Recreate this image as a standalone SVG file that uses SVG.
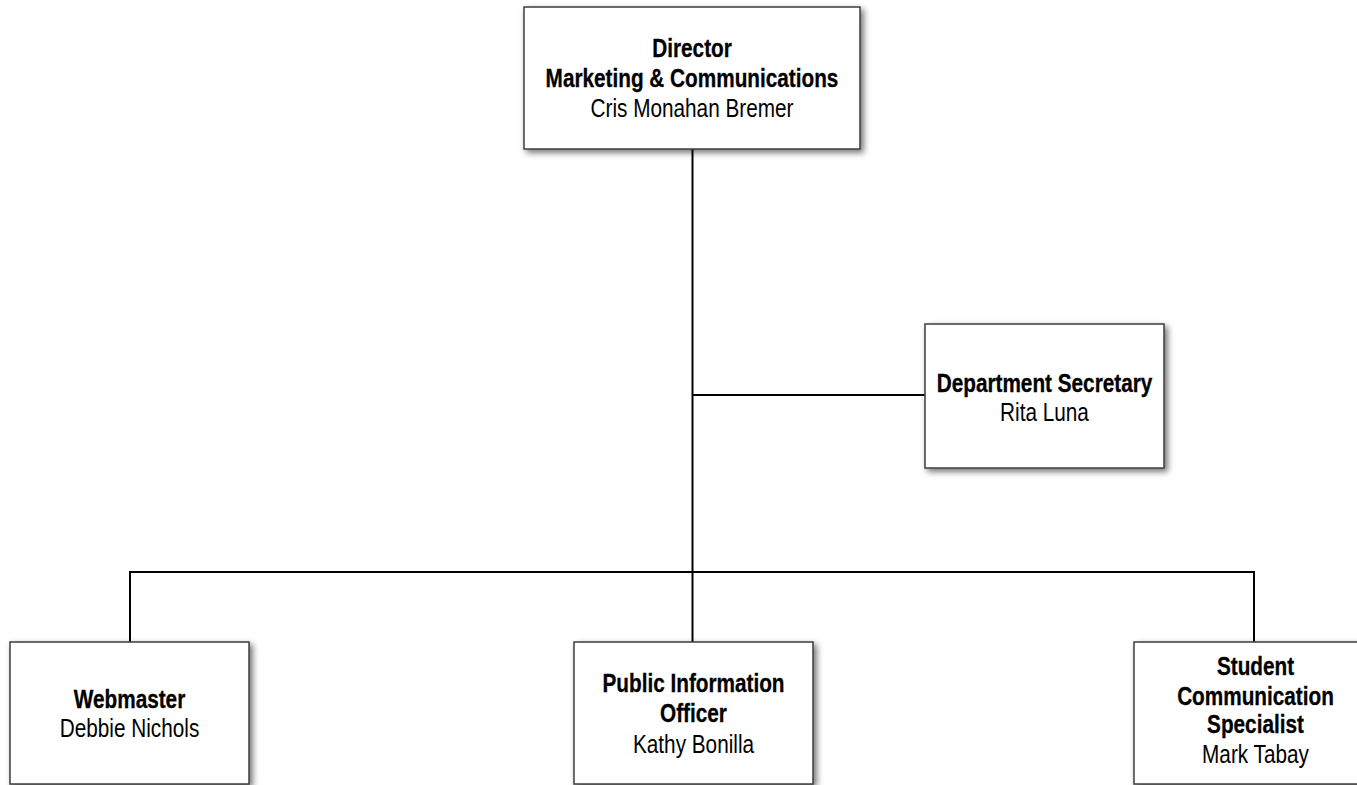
<svg xmlns="http://www.w3.org/2000/svg" width="1357" height="785" viewBox="0 0 1357 785">
<defs>
<filter id="sh" x="-10%" y="-10%" width="130%" height="130%">
<feDropShadow dx="3" dy="3" stdDeviation="3" flood-color="#000" flood-opacity="0.55"/>
</filter>
<style>
.box{fill:#fff;stroke:#3c3c3c;stroke-width:1.5;filter:url(#sh)}
.t{font-family:"Liberation Sans",Arial,sans-serif;font-size:25px;fill:#000;text-anchor:middle}
.b{font-weight:bold;stroke:#000;stroke-width:0.3}
.c{fill:none;stroke:#000;stroke-width:2}
</style>
</defs>
<rect width="1357" height="785" fill="#fff"/>
<g id="connectors">
<line class="c" x1="692.5" y1="149" x2="692.5" y2="642"/>
<line class="c" x1="692.5" y1="395" x2="925" y2="395"/>
<line class="c" x1="130" y1="572" x2="1254" y2="572"/>
<line class="c" x1="130" y1="571" x2="130" y2="642"/>
<line class="c" x1="1254" y1="571" x2="1254" y2="642"/>
</g>
<g id="director">
<rect class="box" x="524" y="7" width="336" height="142"/>
<g transform="translate(692 0) scale(0.83 1)">
<text class="t b" x="0" y="57">Director</text>
<text class="t b" x="0" y="87">Marketing &amp; Communications</text>
<text class="t" x="0" y="117">Cris Monahan Bremer</text>
</g>
</g>
<g id="secretary">
<rect class="box" x="925" y="324" width="239" height="144"/>
<g transform="translate(1044.5 0) scale(0.83 1)">
<text class="t b" x="0" y="392">Department Secretary</text>
<text class="t" x="0" y="421">Rita Luna</text>
</g>
</g>
<g id="webmaster">
<rect class="box" x="10" y="642" width="239" height="142"/>
<g transform="translate(129.5 0) scale(0.83 1)">
<text class="t b" x="0" y="708">Webmaster</text>
<text class="t" x="0" y="737">Debbie Nichols</text>
</g>
</g>
<g id="pio">
<rect class="box" x="574" y="642" width="239" height="142"/>
<g transform="translate(693.5 0) scale(0.83 1)">
<text class="t b" x="0" y="692">Public Information</text>
<text class="t b" x="0" y="722">Officer</text>
<text class="t" x="0" y="753">Kathy Bonilla</text>
</g>
</g>
<g id="student">
<rect class="box" x="1134" y="642" width="239" height="142"/>
<g transform="translate(1255.5 0) scale(0.83 1)">
<text class="t b" x="0" y="675">Student</text>
<text class="t b" x="0" y="705">Communication</text>
<text class="t b" x="0" y="733">Specialist</text>
<text class="t" x="0" y="763">Mark Tabay</text>
</g>
</g>
</svg>
